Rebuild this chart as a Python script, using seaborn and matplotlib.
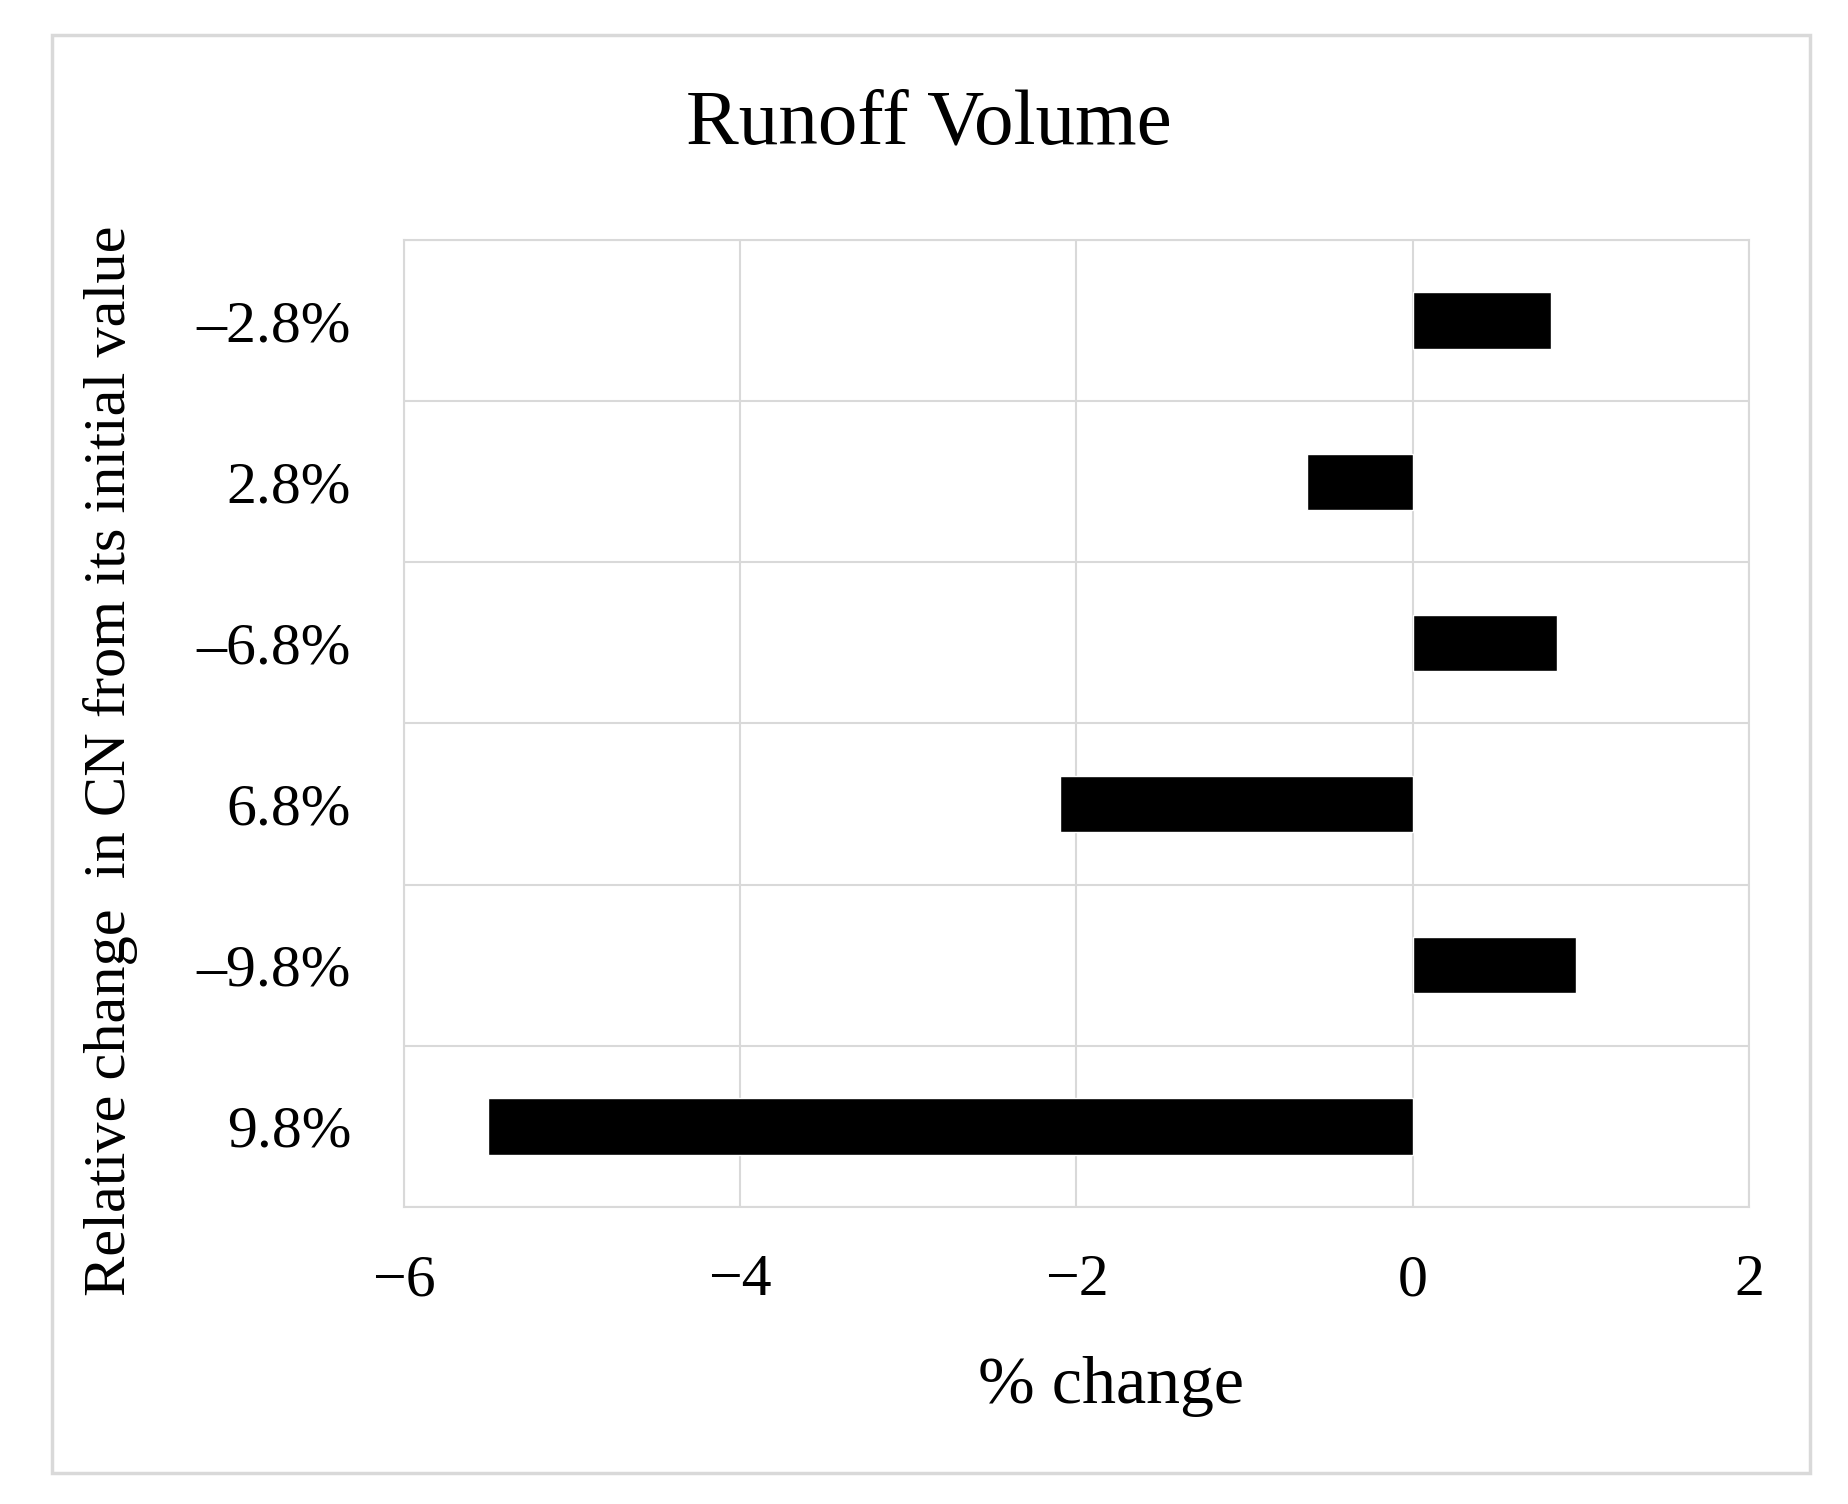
import matplotlib
matplotlib.use("Agg")
import matplotlib.pyplot as plt
import matplotlib.patches as mpatches
import numpy as np
import pandas as pd
import seaborn as sns

# data
categories = ["\u20132.8%", "2.8%", "\u20136.8%", "6.8%", "\u20139.8%", "9.8%"]
pct_change = [0.82, -0.63, 0.86, -2.10, 0.97, -5.50]

df = pd.DataFrame({"cn_change": categories, "pct_change": pct_change})

sns.set_theme(style="white")
plt.rcParams["font.family"] = ["Liberation Serif", "DejaVu Serif"]
plt.rcParams["axes.unicode_minus"] = True

grid_col = "#d9d9d9"

fig = plt.figure(figsize=(18.48, 15.04), dpi=100)
ax = fig.add_axes([0.2186, 0.1975, 0.7278, 0.6429])

sns.barplot(data=df, y="cn_change", x="pct_change", orient="h",
            color="black", width=0.35, saturation=1, ax=ax, zorder=3)

ax.set_xlim(-6, 2)
ax.set_xticks(np.arange(-6, 3, 2))
ax.set_ylim(len(categories) - 0.5, -0.5)
ax.set_yticks(np.arange(-0.5, len(categories), 1), minor=True)

ax.grid(axis="x", which="major", color=grid_col, linewidth=1.5, zorder=0)
ax.grid(axis="y", which="minor", color=grid_col, linewidth=1.5, zorder=0)
ax.grid(axis="y", which="major", visible=False)
for s in ax.spines.values():
    s.set_color(grid_col)
    s.set_linewidth(1.5)

ax.tick_params(axis="both", which="both", length=0)
ax.tick_params(axis="y", labelsize=43, pad=38)
ax.tick_params(axis="x", labelsize=43, pad=34)
for lab in ax.get_xticklabels() + ax.get_yticklabels():
    lab.set_color("black")

ax.set_xlabel("% change", fontsize=49, color="black")
ax.xaxis.set_label_coords(0.526, -0.154)
ax.set_ylabel("Relative change  in CN from its initial value", fontsize=43.5,
              color="black")
ax.yaxis.set_label_coords(-0.198, 0.461)

fig.text(0.5027, 0.917, "Runoff Volume", fontsize=57, ha="center", va="center",
         color="black")

# outer chart frame
frame = mpatches.Rectangle((52 / 1848, 1 - 1473 / 1504), (1810 - 52) / 1848,
                           (1473 - 35) / 1504, transform=fig.transFigure,
                           fill=False, edgecolor=grid_col, linewidth=2.5)
fig.patches.append(frame)

fig.savefig("out.png", dpi=100, facecolor="white")
